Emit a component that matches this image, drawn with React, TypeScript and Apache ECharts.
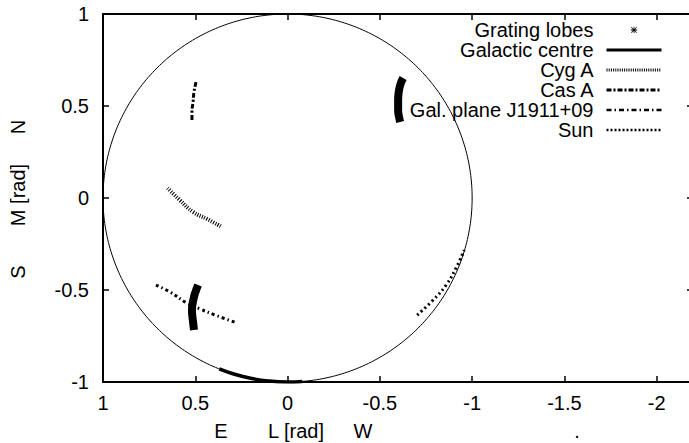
import React, { useEffect, useRef } from 'react';
import * as echarts from 'echarts';

// Axis ticks
const xTickValues = [1, 0.5, 0, -0.5, -1, -1.5, -2];
const yTickValues = [1, 0.5, 0, -0.5, -1];

// Series names
const seriesNames = ['Grating lobes', 'Galactic centre', 'Cyg A', 'Cas A', 'Gal. plane J1911+09', 'Sun'];

// Grating lobes (none visible inside the field)
const gratingL: number[] = [];
const gratingM: number[] = [];

// Galactic centre: track along the southern horizon
const gcHorizonL = [0.37, 0.3, 0.2, 0.1, 0.0, -0.08];
const gcHorizonM = [-0.929, -0.954, -0.98, -0.995, -1.0, -0.997];
// Galactic centre: two short thick arcs
const gcArc1L = [-0.626, -0.612, -0.604, -0.599, -0.599, -0.603, -0.61];
const gcArc1M = [0.652, 0.62, 0.587, 0.533, 0.478, 0.445, 0.413];
const gcArc2L = [0.485, 0.497, 0.507, 0.518, 0.512, 0.507];
const gcArc2M = [-0.473, -0.505, -0.538, -0.609, -0.674, -0.717];

// Cyg A
const cygL = [0.65, 0.584, 0.512, 0.436, 0.355];
const cygM = [0.054, -0.011, -0.076, -0.114, -0.158];

// Cas A
const casL = [0.496, 0.507, 0.512, 0.518, 0.518];
const casM = [0.63, 0.576, 0.522, 0.467, 0.424];

// Gal. plane J1911+09
const galPlaneL = [0.713, 0.637, 0.545, 0.474, 0.393, 0.274];
const galPlaneM = [-0.473, -0.511, -0.571, -0.603, -0.636, -0.679];

// Sun
const sunL = [-0.702, -0.783, -0.859, -0.913, -0.957];
const sunM = [-0.636, -0.56, -0.473, -0.38, -0.283];

const zip = (a: number[], b: number[]) => a.map((v, i) => [v, b[i]]);

// Horizon (unit circle)
const horizon: number[][] = [];
for (let i = 0; i <= 360; i++) {
  const t = (i * Math.PI) / 180;
  horizon.push([Math.cos(t), Math.sin(t)]);
}

const FONT = 'Liberation Sans, Arial, Helvetica, sans-serif';
const starPath =
  'path://M0,4.4h10v1.2h-10z M4.4,0h1.2v10h-1.2z M1.2,0.4L9.6,8.8L8.8,9.6L0.4,1.2z M8.8,0.4L9.6,1.2L1.2,9.6L0.4,8.8z';

const hideSym = { opacity: 0 };

export default function App() {
  const ref = useRef<HTMLDivElement>(null);
  useEffect(() => {
    if (!ref.current) return;
    const chart = echarts.init(ref.current, undefined, { renderer: 'svg' });
    const axisCommon = {
      type: 'value' as const,
      axisLine: { show: true, onZero: false, lineStyle: { color: '#000', width: 2 } },
      splitLine: { show: false },
    };
    const tick = { show: true, inside: true, length: 6, lineStyle: { color: '#000', width: 1.5 } };
    const txt = (text: string, x: number, y: number, rot = 0) => ({
      type: 'text',
      x,
      y,
      rotation: rot,
      style: { text, font: `20px ${FONT}`, fill: '#000', align: 'center', verticalAlign: 'middle' },
    });
    chart.setOption({
      animation: false,
      backgroundColor: '#fff',
      grid: { left: 103, top: 14, width: 646, height: 368, outerBoundsMode: 'none', containLabel: false },
      xAxis: [
        {
          ...axisCommon,
          position: 'bottom',
          inverse: true,
          min: -2.5,
          max: 1,
          interval: 0.5,
          axisTick: tick,
          axisLabel: {
            show: true,
            margin: 11,
            color: '#000',
            fontSize: 20,
            fontFamily: FONT,
            showMinLabel: true,
            showMaxLabel: true,
            formatter: (v: number) => (xTickValues.includes(v) ? String(v) : ''),
          },
        },
        {
          ...axisCommon,
          position: 'top',
          inverse: true,
          min: -2.5,
          max: 1,
          interval: 0.5,
          axisTick: tick,
          axisLabel: { show: false },
        },
      ],
      yAxis: [
        {
          ...axisCommon,
          position: 'left',
          min: -1,
          max: 1,
          interval: 0.5,
          axisTick: tick,
          axisLabel: {
            show: true,
            margin: 14,
            color: '#000',
            fontSize: 20,
            fontFamily: FONT,
            showMinLabel: true,
            showMaxLabel: true,
            formatter: (v: number) => (yTickValues.includes(v) ? String(v) : ''),
          },
        },
        {
          ...axisCommon,
          position: 'right',
          offset: -56,
          min: -1,
          max: 1,
          interval: 0.5,
          axisTick: tick,
          axisLabel: { show: false },
        },
      ],
      legend: {
        orient: 'vertical',
        right: 21,
        top: 15,
        align: 'right',
        itemWidth: 55,
        itemHeight: 8,
        itemGap: 0,
        selectedMode: false,
        data: [
          { name: seriesNames[0] },
          { name: seriesNames[1], itemStyle: hideSym, lineStyle: { width: 3, type: 'solid', color: '#000' } },
          { name: seriesNames[2], itemStyle: hideSym, lineStyle: { width: 3, type: [1, 1.2], color: '#000' } },
          { name: seriesNames[3], itemStyle: hideSym, lineStyle: { width: 3, type: [5, 2, 2, 2], color: '#000' } },
          { name: seriesNames[4], itemStyle: hideSym, lineStyle: { width: 2.5, type: [5, 3, 1.5, 3], color: '#000' } },
          { name: seriesNames[5], itemStyle: hideSym, lineStyle: { width: 2.5, type: [2, 2], color: '#000' } },
        ],
        formatter: (n: string) => `{t|${n}}`,
        textStyle: {
          rich: {
            t: {
              width: 170,
              align: 'right',
              fontSize: 20,
              lineHeight: 16,
              fontFamily: FONT,
              color: '#000',
              padding: [0, 8, 0, 0],
            },
          },
        },
      },
      graphic: [
        txt('E', 221, 431),
        txt('L [rad]', 296, 431),
        txt('W', 363, 431),
        txt('.', 577, 431),
        txt('N', 18, 127, Math.PI / 2),
        txt('M [rad]', 18, 195, Math.PI / 2),
        txt('S', 18, 272, Math.PI / 2),
      ],
      series: [
        {
          name: 'horizon',
          type: 'line',
          data: horizon,
          symbol: 'none',
          silent: true,
          lineStyle: { color: '#000', width: 1 },
          z: 1,
        },
        {
          name: seriesNames[0],
          type: 'line',
          data: zip(gratingL, gratingM),
          symbol: starPath,
          symbolSize: 7,
          itemStyle: { color: '#000' },
          lineStyle: { width: 0, opacity: 0, color: '#000' },
        },
        {
          name: seriesNames[1],
          type: 'line',
          data: zip(gcHorizonL, gcHorizonM),
          symbol: 'none',
          smooth: true,
          itemStyle: { color: '#000' },
          lineStyle: { color: '#000', width: 3.5 },
        },
        {
          name: seriesNames[1],
          type: 'line',
          data: zip(gcArc1L, gcArc1M),
          symbol: 'none',
          smooth: true,
          itemStyle: { color: '#000' },
          lineStyle: { color: '#000', width: 8 },
        },
        {
          name: seriesNames[1],
          type: 'line',
          data: zip(gcArc2L, gcArc2M),
          symbol: 'none',
          smooth: true,
          itemStyle: { color: '#000' },
          lineStyle: { color: '#000', width: 8 },
        },
        {
          name: seriesNames[2],
          type: 'line',
          data: zip(cygL, cygM),
          symbol: 'none',
          smooth: true,
          itemStyle: { color: '#000' },
          lineStyle: { color: '#000', width: 4, type: [1, 1.5] },
        },
        {
          name: seriesNames[3],
          type: 'line',
          data: zip(casL, casM),
          symbol: 'none',
          smooth: true,
          itemStyle: { color: '#000' },
          lineStyle: { color: '#000', width: 3, type: [5, 2, 2, 2] },
        },
        {
          name: seriesNames[4],
          type: 'line',
          data: zip(galPlaneL, galPlaneM),
          symbol: 'none',
          smooth: true,
          itemStyle: { color: '#000' },
          lineStyle: { color: '#000', width: 3, type: [3, 3, 1.5, 3] },
        },
        {
          name: seriesNames[5],
          type: 'line',
          data: zip(sunL, sunM),
          symbol: 'none',
          smooth: true,
          itemStyle: { color: '#000' },
          lineStyle: { color: '#000', width: 3, type: [2, 3] },
        },
      ],
    });
    return () => chart.dispose();
  }, []);
  return <div ref={ref} style={{ width: 689, height: 443, position: 'fixed', left: 0, top: 0 }} />;
}
